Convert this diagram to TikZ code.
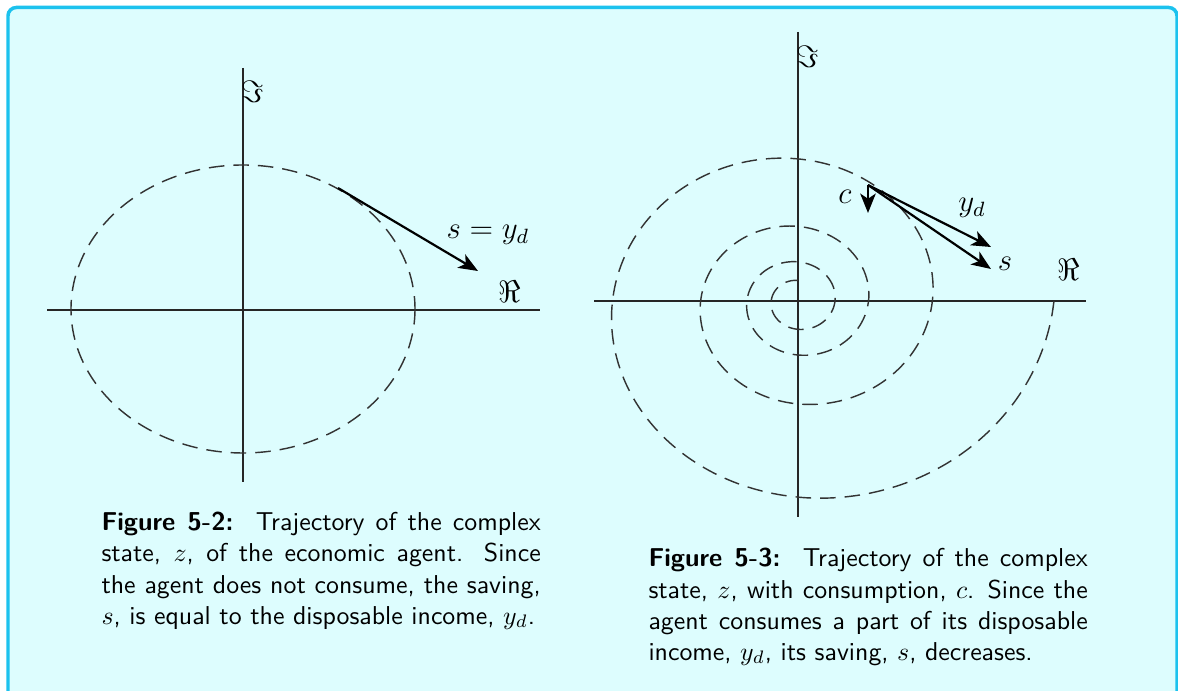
\documentclass[tikz,border=0pt]{standalone}
\usepackage{amsmath,amssymb}
\usepackage{xcolor}
\usepackage{tikz}
\usetikzlibrary{arrows.meta,positioning,calc}
\definecolor{boxfill}{HTML}{DDFDFE}
\definecolor{boxline}{HTML}{1CC2EE}

\begin{document}
\begin{tikzpicture}[
  x=0.387pt, y=-0.387pt,
  axis/.style={line width=0.7pt, draw=black!85},
  traj/.style={line width=0.55pt, draw=black!80, dash pattern=on 6pt off 3.5pt},
  vec/.style={-{Stealth[length=7.5pt,width=6pt,inset=2pt]}, line width=0.85pt},
  lbl/.style={inner sep=0pt, font=\large},
  capt/.style={inner sep=0pt, text width=170pt, align=justify, font=\sffamily, anchor=base west},
]
\clip (0,0) rectangle (1178,691);
\draw[fill=boxfill, draw=boxline, line width=1.35pt, rounded corners=3.2pt] (8,7.5) rectangle (1177,720);

% Left panel: no consumption
\coordinate (o1) at (243,310);
\coordinate (l1w) at (47,310);
\coordinate (l1e) at (540,310);
\coordinate (l1n) at (243,68);
\coordinate (l1s) at (243,482);
\draw[axis] (l1w) -- (l1e);
\draw[axis] (l1n) -- (l1s);
\draw[traj] (243,309) ellipse [x radius=172, y radius=144];
\coordinate (z1) at (338,188);
\coordinate (s1) at (478,271);
\draw[vec] (z1) -- (s1);
\node[lbl] (sy1) at (488,235) {$s = y_d$};
\node[lbl] (re1) at (510,292) {$\Re$};
\node[lbl] (im1) at (253,92) {$\Im$};
\node[capt] (cap1) at (101,531) {\textbf{Figure 5-2:}\ \ Trajectory of the complex\linebreak
  state, $z$, of the economic agent. Since\linebreak
  the agent does not consume, the saving,\linebreak
  $s$, is equal to the disposable income, $y_d$.};

% Right panel: with consumption
\coordinate (o2) at (798,301);
\coordinate (l2w) at (594,301);
\coordinate (l2e) at (1086,301);
\coordinate (l2n) at (798,32);
\coordinate (l2s) at (798,517);
\draw[axis] (l2w) -- (l2e);
\draw[axis] (l2n) -- (l2s);
\draw[traj] plot[domain=0:23.56, samples=400, variable=\t, smooth]
  ({798 + 256*exp(-0.1026*\t)*cos(\t r)}, {301 + 230.4*exp(-0.1026*\t)*sin(\t r)});
\coordinate (z2) at (868,185);
\coordinate (c2) at (868,213);
\coordinate (yd2) at (991,247);
\coordinate (s2) at (991,269);
\draw[vec] (z2) -- (c2);
\draw[vec] (z2) -- (yd2);
\draw[vec] (z2) -- (s2);
\node[lbl] (cl) at (845,197) {$c$};
\node[lbl] (ydl) at (972,208) {$y_d$};
\node[lbl] (sl) at (1005,264) {$s$};
\node[lbl] (re2) at (1069,270) {$\Re$};
\node[lbl] (im2) at (808,57) {$\Im$};
\node[capt] (cap2) at (648,567) {\textbf{Figure 5-3:}\ \ Trajectory of the complex\linebreak
  state, $z$, with consumption, $c$. Since the\linebreak
  agent consumes a part of its disposable\linebreak
  income, $y_d$, its saving, $s$, decreases.};
\end{tikzpicture}
\end{document}
